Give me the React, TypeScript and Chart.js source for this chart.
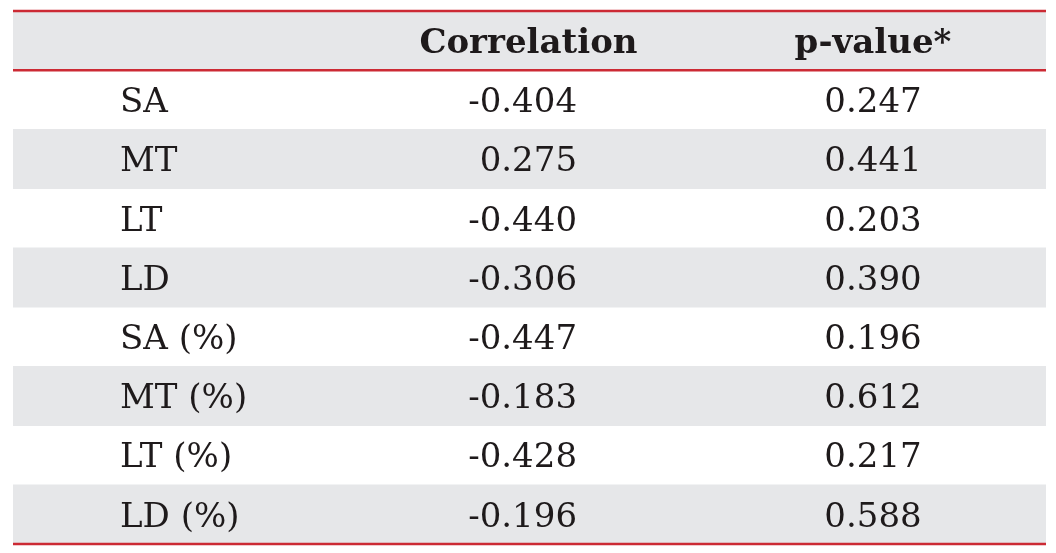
import React, { useEffect, useRef } from 'react';
import { Chart, registerables } from 'chart.js';

Chart.register(...registerables);

// ---- data ----
const columnHeaders = ['Correlation', 'p-value*'];
const rowLabels = ['SA', 'MT', 'LT', 'LD', 'SA (%)', 'MT (%)', 'LT (%)', 'LD (%)'];
const correlations = [-0.404, 0.275, -0.44, -0.306, -0.447, -0.183, -0.428, -0.196];
const pValues = [0.247, 0.441, 0.203, 0.39, 0.196, 0.612, 0.217, 0.588];

// ---- style / layout constants ----
const HEADER_KEY = '__header__';
const GREY = '#e6e7e9';
const RED = '#cc2a34';
const TEXT = '#1e1a1b';
const FONT = '"DejaVu Serif", serif';
const FONT_SIZE = 34;
const LABEL_X = 0.1036; // fraction of x scale (left aligned)
const CORR_RIGHT_X = 0.546; // right edge of correlation numbers
const CORR_HEAD_X = 0.499; // centre of correlation header
const P_X = 0.8325; // centre of p-value column

const tablePlugin = {
  id: 'tableText',
  afterDatasetsDraw(chart: any) {
    const { ctx, chartArea, scales } = chart;
    const x = scales.x;
    const y = scales.y;
    const cats = [HEADER_KEY, ...rowLabels];
    const rowH = (chartArea.bottom - chartArea.top) / cats.length;
    ctx.save();
    // red rules
    ctx.strokeStyle = RED;
    ctx.lineWidth = 2.5;
    const rules = [chartArea.top, y.getPixelForValue(0) + rowH / 2, chartArea.bottom];
    rules.forEach((ry: number) => {
      ctx.beginPath();
      ctx.moveTo(chartArea.left, ry);
      ctx.lineTo(chartArea.right, ry);
      ctx.stroke();
    });
    ctx.fillStyle = TEXT;
    ctx.textBaseline = 'alphabetic';
    const off = FONT_SIZE * 0.36;
    // header
    const hy = y.getPixelForValue(0) + off;
    ctx.font = `bold ${FONT_SIZE}px ${FONT}`;
    ctx.textAlign = 'center';
    ctx.fillText(columnHeaders[0], x.getPixelForValue(CORR_HEAD_X), hy);
    ctx.fillText(columnHeaders[1], x.getPixelForValue(P_X), hy);
    // body
    ctx.font = `${FONT_SIZE}px ${FONT}`;
    rowLabels.forEach((lab, i) => {
      const ry = y.getPixelForValue(i + 1) + off;
      ctx.textAlign = 'left';
      ctx.fillText(lab, x.getPixelForValue(LABEL_X), ry);
      ctx.textAlign = 'right';
      ctx.fillText(correlations[i].toFixed(3), x.getPixelForValue(CORR_RIGHT_X), ry);
      ctx.textAlign = 'center';
      ctx.fillText(pValues[i].toFixed(3), x.getPixelForValue(P_X), ry);
    });
    ctx.restore();
  },
};

export default function App() {
  const ref = useRef<HTMLCanvasElement>(null);
  useEffect(() => {
    if (!ref.current) return;
    const cats = [HEADER_KEY, ...rowLabels];
    const stripes = cats.map((_, i) => (i % 2 === 0 ? [0, 1] : null));
    const chart = new Chart(ref.current, {
      type: 'bar',
      data: {
        labels: cats,
        datasets: [
          {
            data: stripes as any,
            backgroundColor: GREY,
            borderWidth: 0,
            barPercentage: 1,
            categoryPercentage: 1,
          },
        ],
      },
      options: {
        indexAxis: 'y',
        responsive: false,
        animation: false,
        layout: { padding: { left: 13, right: 10, top: 11, bottom: 9 } },
        plugins: { legend: { display: false }, tooltip: { enabled: false } },
        scales: {
          x: { type: 'linear', min: 0, max: 1, display: false },
          y: { type: 'category', display: false, offset: true },
        },
      },
      plugins: [tablePlugin],
    });
    return () => chart.destroy();
  }, []);
  return (
    <div style={{ position: 'absolute', left: 0, top: 0, width: 1056, height: 553, background: '#fff' }}>
      <canvas ref={ref} width={1056} height={553} />
    </div>
  );
}
